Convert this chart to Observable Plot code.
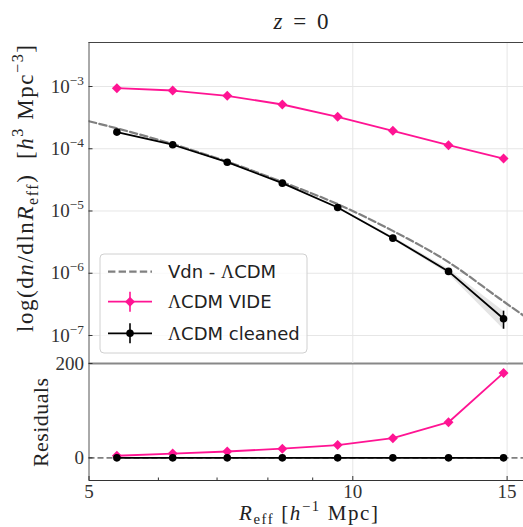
<!DOCTYPE html>
<html>
<head>
<meta charset="utf-8">
<script src="https://cdn.jsdelivr.net/npm/d3@7"></script>
<script src="https://cdn.jsdelivr.net/npm/@observablehq/plot@0.6"></script>
<style>
  body { margin: 0; background: #fff; }
  #fig { position: relative; width: 523px; height: 527px; overflow: hidden; background: #fff; }
  #fig svg { position: absolute; left: 0; top: 0; }
</style>
</head>
<body>
<div id="fig"></div>
<script>
// Effective radius bins [h^-1 Mpc]
const radius = [5.38, 6.23, 7.19, 8.31, 9.61, 11.11, 12.86, 14.86];
// Void size function, VIDE catalogue
const nVide = [9.39e-4, 8.62e-4, 7.09e-4, 5.14e-4, 3.26e-4, 1.94e-4, 1.14e-4, 6.97e-5];
// Void size function, cleaned catalogue, with its uncertainty
const nCleaned = [1.85e-4, 1.16e-4, 6.08e-5, 2.80e-5, 1.14e-5, 3.66e-6, 1.07e-6, 1.86e-7];
const errCleaned = [3e-6, 2e-6, 1.2e-6, 0.6e-6, 0.35e-6, 0.2e-6, 0.1e-6, 0.6e-7];
// Vdn theoretical model
const radiusVdn = [5.0, 5.37, 6.23, 7.18, 8.31, 9.61, 11.11, 12.86, 14.7, 15.66];
const nVdn = [2.77e-4, 2.14e-4, 1.19e-4, 6.24e-5, 2.92e-5, 1.29e-5, 4.79e-6, 1.51e-6, 3.93e-7, 2.09e-7];
// Residuals with respect to the model
const resVide = [4.5, 9, 13.5, 19.5, 27, 41.6, 75.5, 180];
const resCleaned = [0, 0, 0, 0, 0, 0, 0, 0];
// Ticks and labels
const xTicks = [5, 10, 15];
const xMinor = [6, 7, 8, 9];
const yTicks = [1e-7, 1e-6, 1e-5, 1e-4, 1e-3];
const resTicks = [0, 200];
const seriesNames = ["Vdn - ΛCDM", "ΛCDM VIDE", "ΛCDM cleaned"];
const title = "z = 0";

const pink = "#ff1493";
const grey = "#808080";
const W = 523, H = 527;
const xDomain = [5, 15.66];
const yDomain = [10 ** -7.45, 10 ** -2.293];
const resDomain = [-48, 200];

const vide = radius.map((r, i) => ({r, n: nVide[i], res: resVide[i]}));
const cleaned = radius.map((r, i) => ({r, n: nCleaned[i], lo: nCleaned[i] - errCleaned[i], hi: nCleaned[i] + errCleaned[i], res: resCleaned[i]}));
const vdn = radiusVdn.map((r, i) => ({r, n: nVdn[i]}));

const serif = "'Liberation Serif', 'DejaVu Serif', serif";
const sans = "'DejaVu Sans', sans-serif";
const gridStyle = {stroke: "#e6e6e6", strokeOpacity: 1};

// Residuals panel
const bottomPanel = Plot.plot({
  width: W, height: H,
  marginLeft: 88.5, marginRight: 0, marginTop: 363, marginBottom: 47,
  style: {background: "transparent", fontFamily: serif, fontSize: "19px", color: "#333"},
  x: {type: "log", domain: xDomain},
  y: {domain: resDomain},
  marks: [
    Plot.gridX([10, 15], gridStyle),
    Plot.ruleY([0], {stroke: grey, strokeWidth: 1.6, strokeDasharray: "6 3"}),
    Plot.line(vide, {x: "r", y: "res", stroke: pink, strokeWidth: 1.8}),
    Plot.dot(vide, {x: "r", y: "res", symbol: "diamond2", r: 4.5, fill: pink}),
    Plot.line(cleaned, {x: "r", y: "res", stroke: "#000", strokeWidth: 1.8}),
    Plot.dot(cleaned, {x: "r", y: "res", r: 3.8, fill: "#000"}),
    Plot.ruleX([xDomain[0]], {stroke: "#555"}),
    Plot.ruleY([resDomain[0]], {stroke: "#333"}),
    Plot.ruleY([resDomain[1]], {stroke: "#888", strokeWidth: 2}),
    Plot.axisY(resTicks, {tickSize: -4, tickPadding: 9, label: null, stroke: "#333"}),
    Plot.axisX(xTicks, {tickSize: -4, tickPadding: 8, label: null, stroke: "#333"}),
    Plot.axisX(xMinor, {tickSize: -2.5, tickPadding: 0, tickFormat: () => "", label: null, stroke: "#333"})
  ]
});

// Void size function panel
const topPanel = Plot.plot({
  width: W, height: H,
  marginLeft: 88.5, marginRight: 0, marginTop: 42, marginBottom: 164,
  style: {background: "transparent", fontFamily: serif, fontSize: "19px", color: "#333"},
  x: {type: "log", domain: xDomain, axis: null},
  y: {type: "log", domain: yDomain},
  marks: [
    Plot.gridY(yTicks, gridStyle),
    Plot.gridX([10, 15], gridStyle),
    Plot.areaY(cleaned, {x: "r", y1: "lo", y2: "hi", fill: "#c4c4c4", fillOpacity: 0.45}),
    Plot.line(vdn, {x: "r", y: "n", stroke: grey, strokeWidth: 2.2, strokeDasharray: "7.4 3.2", curve: "monotone-x", clip: true}),
    Plot.line(vide, {x: "r", y: "n", stroke: pink, strokeWidth: 1.8}),
    Plot.dot(vide, {x: "r", y: "n", symbol: "diamond2", r: 4.5, fill: pink}),
    Plot.line(cleaned, {x: "r", y: "n", stroke: "#000", strokeWidth: 1.8}),
    Plot.ruleX(cleaned, {x: "r", y1: "lo", y2: "hi", stroke: "#000", strokeWidth: 1.6}),
    Plot.dot(cleaned, {x: "r", y: "n", r: 3.8, fill: "#000"}),
    Plot.ruleX([xDomain[0]], {stroke: "#555"}),
    Plot.ruleY([yDomain[1]], {stroke: "#444"}),
    Plot.axisY(yTicks, {tickSize: -4, tickPadding: 9, label: null, stroke: "#333",
      tickFormat: d => `10^${Math.round(Math.log10(d))}`})
  ]
});

const fig = document.getElementById("fig");
fig.append(bottomPanel, topPanel);

// Text with italic, superscript and subscript runs
function rich(text, parts, base) {
  let off = 0;
  for (const p of parts) {
    const want = p.sup ? -base * 0.42 : p.sub ? base * 0.22 : 0;
    const t = text.append("tspan").text(p.t);
    if (want - off) t.attr("dy", want - off);
    off = want;
    if (p.sup || p.sub) t.attr("font-size", base * 0.7);
    if (p.it) t.attr("font-style", "italic");
    if (p.font) t.attr("font-family", p.font);
  }
}

// Powers of ten on the log axis
d3.select(topPanel).selectAll('[aria-label="y-axis tick label"] text').each(function () {
  const [b, e] = this.textContent.split("^");
  const t = d3.select(this).text("");
  rich(t, [{t: b}, {t: e.replace("-", "\u2212"), sup: true}], 19);
});

const svg = d3.select(topPanel);

// Title
const tt = svg.append("text").attr("x", 301).attr("y", 29).attr("text-anchor", "middle")
  .attr("font-family", serif).attr("font-size", 23).attr("fill", "#222")
  .attr("textLength", 55).attr("lengthAdjust", "spacing");
rich(tt, [{t: title.slice(0, 1), it: true}, {t: title.slice(1)}], 23);

// Axis titles
const yl = svg.append("text").attr("transform", "translate(33,188.5) rotate(-90)")
  .attr("text-anchor", "middle").attr("font-family", serif).attr("font-size", 23).attr("fill", "#222")
  .attr("textLength", 287).attr("lengthAdjust", "spacing");
rich(yl, [
  {t: "log(d"}, {t: "n", it: true}, {t: "/dln"}, {t: "R", it: true}, {t: "eff", sub: true},
  {t: ")  ["}, {t: "h", it: true}, {t: "3", sup: true}, {t: " Mpc"}, {t: "\u22123", sup: true}, {t: "]"}
], 23);

const rl = svg.append("text").attr("transform", "translate(48,422.5) rotate(-90)")
  .attr("text-anchor", "middle").attr("font-family", serif).attr("font-size", 22).attr("fill", "#222")
  .attr("textLength", 89).attr("lengthAdjust", "spacing");
rl.text("Residuals");

const xl = svg.append("text").attr("x", 308.5).attr("y", 519.5).attr("text-anchor", "middle")
  .attr("font-family", serif).attr("font-size", 21).attr("fill", "#222")
  .attr("textLength", 139).attr("lengthAdjust", "spacing");
rich(xl, [
  {t: "R", it: true}, {t: "eff", sub: true}, {t: " ["}, {t: "h", it: true}, {t: "\u22121", sup: true}, {t: " Mpc]"}
], 21);

// Legend
const lg = svg.append("g").attr("font-family", sans).attr("font-size", 18).attr("fill", "#222")
  .attr("text-anchor", "start");
lg.append("rect").attr("x", 100).attr("y", 254).attr("width", 207).attr("height", 99).attr("rx", 4)
  .attr("fill", "#fff").attr("fill-opacity", 0.8).attr("stroke", "#d0d0d0");
const rowsY = [271.7, 301.7, 333.3];
seriesNames.forEach((name, i) => {
  const y = rowsY[i];
  const g = lg.append("g");
  if (i === 0) {
    g.append("line").attr("x1", 108).attr("x2", 152).attr("y1", y).attr("y2", y)
      .attr("stroke", grey).attr("stroke-width", 2.2).attr("stroke-dasharray", "7.4 3.2");
  } else {
    const c = i === 1 ? pink : "#000";
    g.append("line").attr("x1", 108).attr("x2", 152).attr("y1", y).attr("y2", y).attr("stroke", c).attr("stroke-width", 1.8);
    g.append("line").attr("x1", 130).attr("x2", 130).attr("y1", y - 10).attr("y2", y + 10).attr("stroke", c).attr("stroke-width", 1.6);
    const sym = i === 1 ? d3.symbolDiamond2 : d3.symbolCircle;
    const r = i === 1 ? 4.5 : 3.8;
    g.append("path").attr("d", d3.symbol(sym, Math.PI * r * r)()).attr("transform", `translate(130,${y})`).attr("fill", c);
  }
  const t = g.append("text").attr("x", 168).attr("y", y).attr("dy", "0.36em").attr("text-anchor", "start");
  const k = name.indexOf("Λ");
  rich(t, [{t: name.slice(0, k)}, {t: "Λ", font: serif}, {t: name.slice(k + 1)}], 18);
});
</script>
</body>
</html>
